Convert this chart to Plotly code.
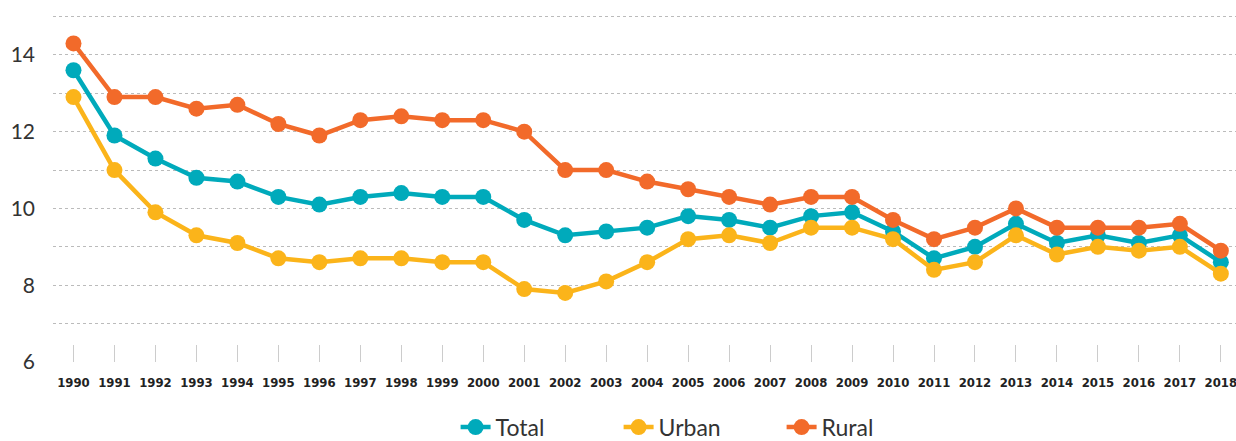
import plotly.graph_objects as go

years = list(range(1990, 2019))
total = [13.6, 11.9, 11.3, 10.8, 10.7, 10.3, 10.1, 10.3, 10.4, 10.3, 10.3, 9.7, 9.3, 9.4, 9.5,
         9.8, 9.7, 9.5, 9.8, 9.9, 9.4, 8.7, 9.0, 9.6, 9.1, 9.3, 9.1, 9.3, 8.6]
urban = [12.9, 11.0, 9.9, 9.3, 9.1, 8.7, 8.6, 8.7, 8.7, 8.6, 8.6, 7.9, 7.8, 8.1, 8.6,
         9.2, 9.3, 9.1, 9.5, 9.5, 9.2, 8.4, 8.6, 9.3, 8.8, 9.0, 8.9, 9.0, 8.3]
rural = [14.3, 12.9, 12.9, 12.6, 12.7, 12.2, 11.9, 12.3, 12.4, 12.3, 12.3, 12.0, 11.0, 11.0, 10.7,
         10.5, 10.3, 10.1, 10.3, 10.3, 9.7, 9.2, 9.5, 10.0, 9.5, 9.5, 9.5, 9.6, 8.9]

series = [("Total", total, "#00AABB"), ("Urban", urban, "#FBB41A"), ("Rural", rural, "#F26A2A")]

y_tickvals = list(range(6, 16))
y_ticktext = [str(v) if v % 2 == 0 else "" for v in y_tickvals]

fig = go.Figure()
for name, vals, color in series:
    fig.add_trace(go.Scatter(
        x=years, y=vals, name=name, mode="lines+markers",
        line=dict(color=color, width=4.5),
        marker=dict(color=color, size=16),
    ))

fig.update_layout(
    width=1236, height=441,
    margin=dict(l=53, r=0, t=0, b=79, autoexpand=False),
    plot_bgcolor="white", paper_bgcolor="white",
    showlegend=True,
    legend=dict(orientation="h", x=0.547, xanchor="center", y=-0.18, yanchor="middle",
                font=dict(family="Lato, sans-serif", size=23, color="#333333"),
                entrywidth=118, entrywidthmode="pixels"),
    xaxis=dict(
        range=[1989.5, 2018.37], tickmode="linear", tick0=1990, dtick=1,
        showgrid=False, zeroline=False, showline=False, automargin=False,
        ticks="inside", ticklen=17, tickwidth=1, tickcolor="#cccccc",
        tickangle=0, ticklabeloverflow="allow",
        tickfont=dict(family="DejaVu Sans Condensed, sans-serif",
                      size=13, color="#222222", weight="bold"),
        ticklabelstandoff=11,
    ),
    yaxis=dict(
        range=[6, 15.43], tickmode="array", tickvals=y_tickvals, ticktext=y_ticktext,
        showgrid=True, gridcolor="#bbbbbb", gridwidth=1, griddash="dot",
        zeroline=False, showline=False, ticks="", automargin=False,
        tickfont=dict(family="Lato, sans-serif", size=21, color="#333333"),
        ticklabelstandoff=17,
    ),
)

fig.write_html("out.html", config={"displayModeBar": False},
               post_script="document.body.style.margin='0';document.body.style.padding='0';")
